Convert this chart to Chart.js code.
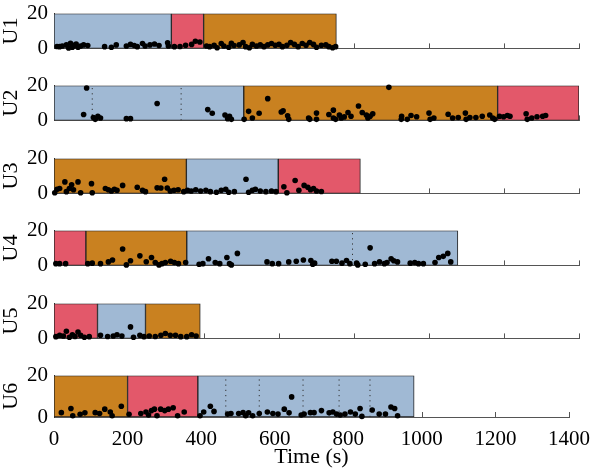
<!DOCTYPE html>
<html lang="en">
<head>
<meta charset="UTF-8">
<title>Activity per user</title>
<style>
    body { margin: 0; background: #fff; }
    #wrap { position: relative; width: 600px; height: 469px; }
    #wrap canvas { position: absolute; left: 0; }
</style>
</head>
<body>
<div id="wrap"></div>

<script src="https://cdn.jsdelivr.net/npm/chart.js"></script>
<script>
// --- data ---
const users = ['U1', 'U2', 'U3', 'U4', 'U5', 'U6'];

// spans: [kind, start (s), end (s)]  B = blue, R = red, O = orange
const u1Spans = [['B', 0, 313], ['R', 313, 399], ['O', 399, 753]];
const u2Spans = [['B', 0, 506], ['O', 506, 1183], ['R', 1183, 1400]];
const u3Spans = [['O', 0, 353], ['B', 353, 598], ['R', 598, 817]];
const u4Spans = [['R', 0, 85], ['O', 85, 354], ['B', 354, 1077]];
const u5Spans = [['R', 0, 116], ['B', 116, 244], ['O', 244, 390]];
const u6Spans = [['O', 0, 200], ['R', 200, 391], ['B', 391, 979]];

// dotted markers (s)
const u1Marks = [];
const u2Marks = [102, 339];
const u3Marks = [];
const u4Marks = [796];
const u5Marks = [];
const u6Marks = [467, 558, 677, 775, 859];

// points: [time (s), value]
const u1Points = [[8,1.1],[15,1],[22,1.4],[33,2],[39,0.3],[44,3],[49,0.7],[54,1.8],[59,2.5],[64,0.7],[71,1.4],[79,2],[90,1.7],
    [135,1],[153,0.7],[166,2],[193,1.4],[204,2.3],[214,1.7],[222,1],[236,2.8],[243,1.4],[256,2],[268,2.5],[280,1.7],[303,3.2],
    [305,1.4],[321,1],[336,1.1],[351,1.8],[367,2.3],[377,4.1],[389,3.7],[407,1.4],[415,1],[427,1.8],[435,0.4],[446,2.8],[453,1.4],
    [466,0.7],[473,3],[480,1.7],[494,2],[504,3.4],[511,1],[521,0.4],[529,2.3],[540,1.4],[550,2],[560,1],[570,2],[580,2.8],[590,1.8],
    [600,2.3],[609,1],[621,1.8],[631,3.4],[641,2.3],[651,1],[662,2.8],[672,1.8],[682,3.4],[692,2.3],[700,0.7],[713,1.8],[725,2],
    [733,1],[743,0.4],[751,1]];
const u2Points = [[79,3.4],[87,18.6],[105,1.7],[110,0.6],[117,2.4],[124,1.4],[193,1],[204,1],[275,9.7],[410,6.2],[422,4.1],
    [456,3.1],[463,1],[468,2.4],[473,0.6],[507,0.6],[519,5.2],[529,1.4],[547,4.1],[570,12.5],[606,4.8],[611,5.5],[623,2.7],
    [626,0.6],[679,1.4],[682,0.6],[700,4.2],[700,0.6],[733,3.4],[745,5.9],[745,1.4],[751,0.6],[761,3.1],[766,1.4],[774,2],
    [784,4.5],[792,2.4],[812,8.3],[822,4.5],[833,3.1],[837,1.4],[843,2.4],[850,3.8],[893,19],[927,2.4],[926,0.6],[942,0.6],
    [952,2.8],[967,2.1],[1000,4.2],[1003,0.6],[1013,1.4],[1051,3.5],[1063,1.4],[1078,1.7],[1097,4.2],[1099,0.6],[1109,1.7],
    [1125,1.7],[1142,2.4],[1162,3.1],[1170,1.4],[1175,0.6],[1188,2.4],[1199,2.1],[1209,2.8],[1216,2.4],[1259,3.8],[1262,0.6],
    [1274,1.4],[1288,2.1],[1303,2.4],[1311,2.8]];
const u3Points = [[2,0.4],[8,2.4],[15,2.8],[29,6.6],[33,1],[41,2.8],[47,4.9],[52,2.1],[64,6.6],[71,0.4],[100,5.6],[102,0.4],
    [137,2.8],[145,2.1],[153,1.4],[161,2.4],[168,1.8],[183,4.6],[222,3.5],[236,1.8],[244,1],[275,3.2],[285,3.1],[295,8.1],
    [302,3.1],[310,1.4],[320,1.8],[331,2.1],[346,1],[356,1.8],[366,1.4],[378,2.1],[391,1.4],[405,1.8],[417,1],[433,0.7],
    [446,1.8],[458,2.4],[466,0.7],[481,1],[512,8.1],[519,0.7],[529,1.8],[537,2.4],[550,1.4],[565,1],[580,1.4],[592,1],
    [613,3.8],[621,0.4],[643,7.4],[653,1.8],[667,4.6],[677,3.5],[684,2.1],[692,2.8],[700,1.4],[713,1.1]];
const u4Points = [[5,1],[15,1],[31,1],[90,1],[102,1.3],[124,1],[145,2],[156,3.1],[183,9.4],[193,0.3],[204,2.7],[229,5.5],
    [246,2.1],[260,4.5],[270,1.7],[280,0.3],[288,1],[297,1.7],[311,2.4],[321,1.7],[332,1],[351,1.7],[387,0.7],[397,1],
    [412,3.8],[430,1.7],[442,1],[461,4.5],[468,1],[473,0.3],[489,6.9],[568,2],[582,1],[599,1],[626,2],[646,2.4],[665,3.1],
    [685,2.8],[690,0.7],[695,1.3],[741,2.4],[753,2.4],[768,1.3],[780,2.8],[789,1],[807,1.3],[810,0.3],[830,0.7],[843,10.1],
    [855,1],[868,2],[881,1],[888,1.7],[899,3.8],[906,2.7],[916,2],[950,1.3],[962,1.7],[972,1],[985,1],[1016,1.7],[1026,4.5],
    [1038,5.2],[1050,6.9],[1058,2]];
const u5Points = [[5,1],[15,1.8],[25,1.4],[33,4.1],[41,0.7],[49,2.1],[56,1.1],[64,3.7],[71,1.8],[81,0.7],[94,1],[124,1.8],
    [143,1.1],[158,1.4],[168,2.1],[181,1.4],[204,6.6],[212,0.7],[229,1.8],[240,1],[254,1.4],[270,1.1],[285,1.8],[297,2.8],
    [310,1.8],[324,1.8],[338,1],[354,1],[367,2.1],[379,1.4]];
const u6Points = [[20,2.1],[46,4.1],[51,0.6],[71,1.3],[84,2],[112,2.1],[124,1.7],[138,3.8],[153,2.4],[158,0.6],[183,5.2],
    [204,1.3],[236,1.7],[250,2.4],[257,1],[265,3.1],[273,3.8],[280,0.6],[290,3.8],[301,3.1],[311,3.8],[324,4.5],[336,0.6],
    [354,2.4],[397,0.6],[407,2.4],[425,5.2],[435,2.7],[472,1.4],[481,1.7],[502,1.7],[514,2.1],[521,0.6],[529,2],[540,0.6],
    [558,1.7],[580,2.4],[595,1.7],[609,1.4],[626,3.8],[639,2],[646,9.7],[672,1],[680,1.4],[697,2.1],[707,2.1],[727,3.1],
    [748,2],[758,2.4],[768,1.4],[778,1],[791,1.4],[806,2.4],[819,1.4],[832,4.1],[837,0.3],[865,3.4],[884,1.4],[901,1.4],
    [916,4.8],[926,4.1],[934,0.6]];

const allSpans = [u1Spans, u2Spans, u3Spans, u4Spans, u5Spans, u6Spans];
const allMarks = [u1Marks, u2Marks, u3Marks, u4Marks, u5Marks, u6Marks];
const allPoints = [u1Points, u2Points, u3Points, u4Points, u5Points, u6Points];

// --- styling / layout ---
const spanColors = { B: '#a0b9d4', R: '#e3586a', O: '#c98120' };
const plotTops = [7, 79, 152, 224, 297, 369];
const plotHeight = 48;
const padTop = 12;

Chart.defaults.font.family = '"Liberation Serif", "Times New Roman", serif';
Chart.defaults.color = '#000';

// x ticks drawn inward (under the spans)
const inwardTicks = {
    id: 'inwardTicks',
    beforeDatasetsDraw(chart) {
        const s = chart.scales.x;
        const ctx = chart.ctx;
        const b = chart.chartArea.bottom;
        ctx.save();
        ctx.strokeStyle = '#555';
        ctx.lineWidth = 1;
        s.ticks.forEach(t => {
            const px = Math.round(s.getPixelForValue(t.value)) + 0.5;
            ctx.beginPath();
            ctx.moveTo(px, b);
            ctx.lineTo(px, b - 5);
            ctx.stroke();
        });
        ctx.restore();
    }
};

function makeChart(i) {
    const last = i === users.length - 1;
    const canvas = document.createElement('canvas');
    const h = last ? 469 - (plotTops[i] - padTop) : plotHeight + 2 * padTop;
    canvas.width = 600;
    canvas.height = h;
    canvas.style.top = (plotTops[i] - padTop) + 'px';
    document.getElementById('wrap').appendChild(canvas);

    const datasets = [];
    datasets.push({
        type: 'scatter',
        data: allPoints[i].map(p => ({ x: p[0], y: p[1] })),
        xAxisID: 'x', yAxisID: 'y',
        backgroundColor: '#000', borderWidth: 0, pointRadius: 2.8,
        clip: false, order: 0
    });
    allMarks[i].forEach(t => {
        datasets.push({
            type: 'line',
            data: [{ x: t, y: 0 }, { x: t, y: 20 }],
            xAxisID: 'x', yAxisID: 'y',
            borderColor: '#333', borderWidth: 1, borderDash: [1.2, 4],
            pointRadius: 0, showLine: true, order: 1
        });
    });
    allSpans[i].forEach(s => {
        datasets.push({
            type: 'bar',
            indexAxis: 'y',
            data: [[s[1], s[2]]],
            xAxisID: 'x', yAxisID: 'yb',
            backgroundColor: spanColors[s[0]],
            borderColor: '#222', borderWidth: 1, borderSkipped: false,
            barPercentage: 1, categoryPercentage: 1, grouped: false,
            order: 2
        });
    });

    new Chart(canvas, {
        type: 'scatter',
        data: { labels: ['span'], datasets: datasets },
        options: {
            responsive: false,
            animation: false,
            layout: { padding: { top: padTop, bottom: last ? 0 : padTop, left: 0, right: 21 } },
            plugins: { legend: { display: false }, tooltip: { enabled: false } },
            scales: {
                x: {
                    type: 'linear', position: 'bottom', min: 0, max: 1400,
                    ticks: { stepSize: 200, display: last, font: { size: 21 }, padding: 10, maxRotation: 0,
                             callback: v => String(v) },
                    grid: { display: false, drawTicks: false },
                    border: { display: true, color: '#555', width: 1 },
                    title: { display: last, text: 'Time (s)', font: { size: 22, lineHeight: 1 }, padding: { top: 0, bottom: 1 } },
                    afterFit: s => { s.height = last ? h - padTop - plotHeight : 0; }
                },
                y: {
                    type: 'linear', position: 'left', min: 0, max: 20,
                    ticks: { stepSize: 10, font: { size: 21 }, padding: 6 },
                    grid: { display: false, drawTicks: false },
                    border: { display: true, color: '#333', width: 1 },
                    title: { display: true, text: users[i], font: { size: 22, lineHeight: 1 }, padding: 0 },
                    afterFit: s => { s.width = 54; }
                },
                yb: {
                    type: 'category', axis: 'y', labels: ['span'], display: false
                }
            }
        },
        plugins: [inwardTicks]
    });
}

users.forEach((u, i) => makeChart(i));
</script>
</body>
</html>
